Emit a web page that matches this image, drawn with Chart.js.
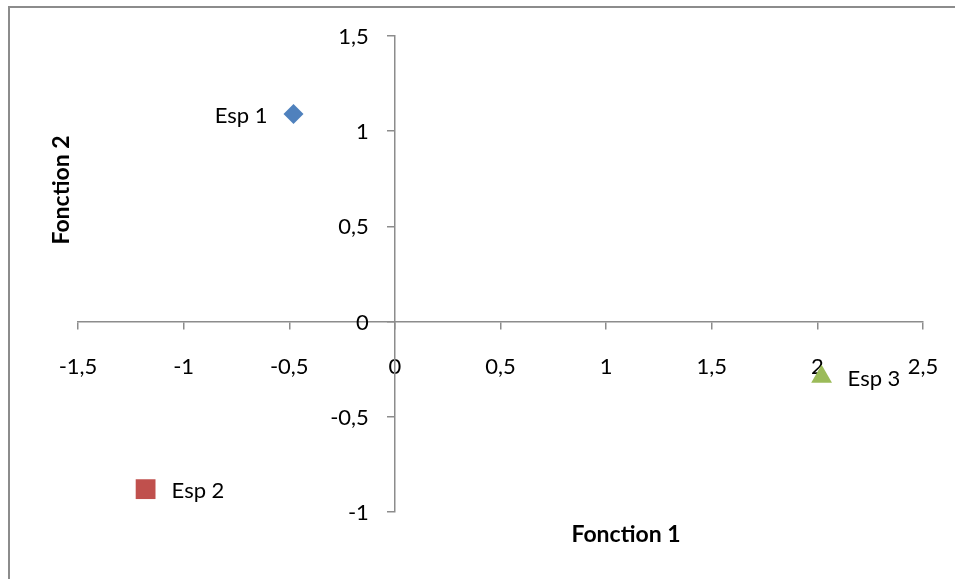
<!DOCTYPE html>
<html>
<head>
<meta charset="utf-8">
<script src="https://cdn.jsdelivr.net/npm/chart.js@4/dist/chart.umd.min.js"></script>
<style>
html,body{margin:0;padding:0;background:#fff;}
#wrap{position:relative;width:955px;height:579px;overflow:hidden;}
#frame{position:absolute;left:8px;top:6px;width:960px;height:600px;border-left:2px solid #8c8c8c;border-top:2px solid #8c8c8c;box-sizing:border-box;}
canvas{position:absolute;left:0;top:0;}
</style>
</head>
<body>
<div id="wrap"><div id="frame"></div><canvas id="c" width="955" height="579"></canvas></div>
<script>
const labels = ["Esp 1", "Esp 2", "Esp 3"];
const fonction1 = [-0.48, -1.18, 2.02];
const fonction2 = [1.09, -0.88, -0.29];
const colors = ["#4f81bd", "#c0504d", "#9bbb59"];
const shapes = ["rectRot", "rect", "triangle"];
const labelSide = ["left", "right", "right"];
const xTitle = "Fonction 1";
const yTitle = "Fonction 2";

const FONT = "Lato, 'Open Sans', sans-serif";
const fmt = v => String(v).replace('.', ',');

const datasets = labels.map((l, i) => ({
  label: l,
  data: [{x: fonction1[i], y: fonction2[i]}],
  backgroundColor: colors[i],
  borderColor: colors[i],
  pointStyle: shapes[i],
  pointRadius: [10, 14, 12][i],
  borderWidth: 0
}));

const overlay = {
  id: 'overlay',
  afterDatasetsDraw(chart) {
    const ctx = chart.ctx;
    ctx.save();
    ctx.fillStyle = '#000';
    // y tick labels, placed left of the centred y axis
    const ys = chart.scales.y, xs = chart.scales.x;
    const axisX = xs.getPixelForValue(0);
    ctx.font = '22px ' + FONT;
    ctx.textAlign = 'right';
    ctx.textBaseline = 'middle';
    ys.ticks.forEach(t => {
      ctx.fillText(fmt(t.value), axisX - 26, ys.getPixelForValue(t.value) + 1);
    });
    // data labels
    chart.data.datasets.forEach((ds, i) => {
      const el = chart.getDatasetMeta(i).data[0];
      if (labelSide[i] === 'left') {
        ctx.textAlign = 'right';
        ctx.fillText(ds.label, el.x - 26, el.y + 2);
      } else {
        ctx.textAlign = 'left';
        ctx.fillText(ds.label, el.x + 26, el.y + 2);
      }
    });
    // axis titles
    ctx.font = 'bold 23px ' + FONT;
    ctx.textAlign = 'center';
    ctx.fillText(xTitle, 626, 535);
    ctx.translate(62, 190);
    ctx.rotate(-Math.PI / 2);
    ctx.fillText(yTitle, 0, 0);
    ctx.restore();
  }
};

new Chart(document.getElementById('c'), {
  type: 'scatter',
  data: { datasets },
  options: {
    responsive: false,
    animation: false,
    events: [],
    layout: { padding: { left: 78, right: 32, top: 36, bottom: 67 } },
    plugins: { legend: { display: false }, tooltip: { enabled: false } },
    scales: {
      x: {
        type: 'linear',
        min: -1.5, max: 2.5,
        position: { y: 0 },
        afterFit: s => { s.paddingLeft = 0; s.paddingRight = 0; },
        border: { display: true, color: '#8c8c8c', width: 1.5 },
        grid: { drawOnChartArea: false, drawTicks: true, tickLength: 7, color: '#8c8c8c', lineWidth: 1.5 },
        ticks: {
          stepSize: 0.5, color: '#000', padding: 25,
          font: { family: FONT, size: 22 },
          callback: fmt
        }
      },
      y: {
        type: 'linear',
        min: -1, max: 1.5,
        position: { x: 0 },
        afterFit: s => { s.paddingTop = 0; s.paddingBottom = 0; },
        border: { display: true, color: '#8c8c8c', width: 1.5 },
        grid: { drawOnChartArea: false, drawTicks: true, tickLength: 7, color: '#8c8c8c', lineWidth: 1.5 },
        ticks: {
          stepSize: 0.5, display: false,
          font: { family: FONT, size: 22 }
        }
      }
    }
  },
  plugins: [overlay]
});
</script>
</body>
</html>
